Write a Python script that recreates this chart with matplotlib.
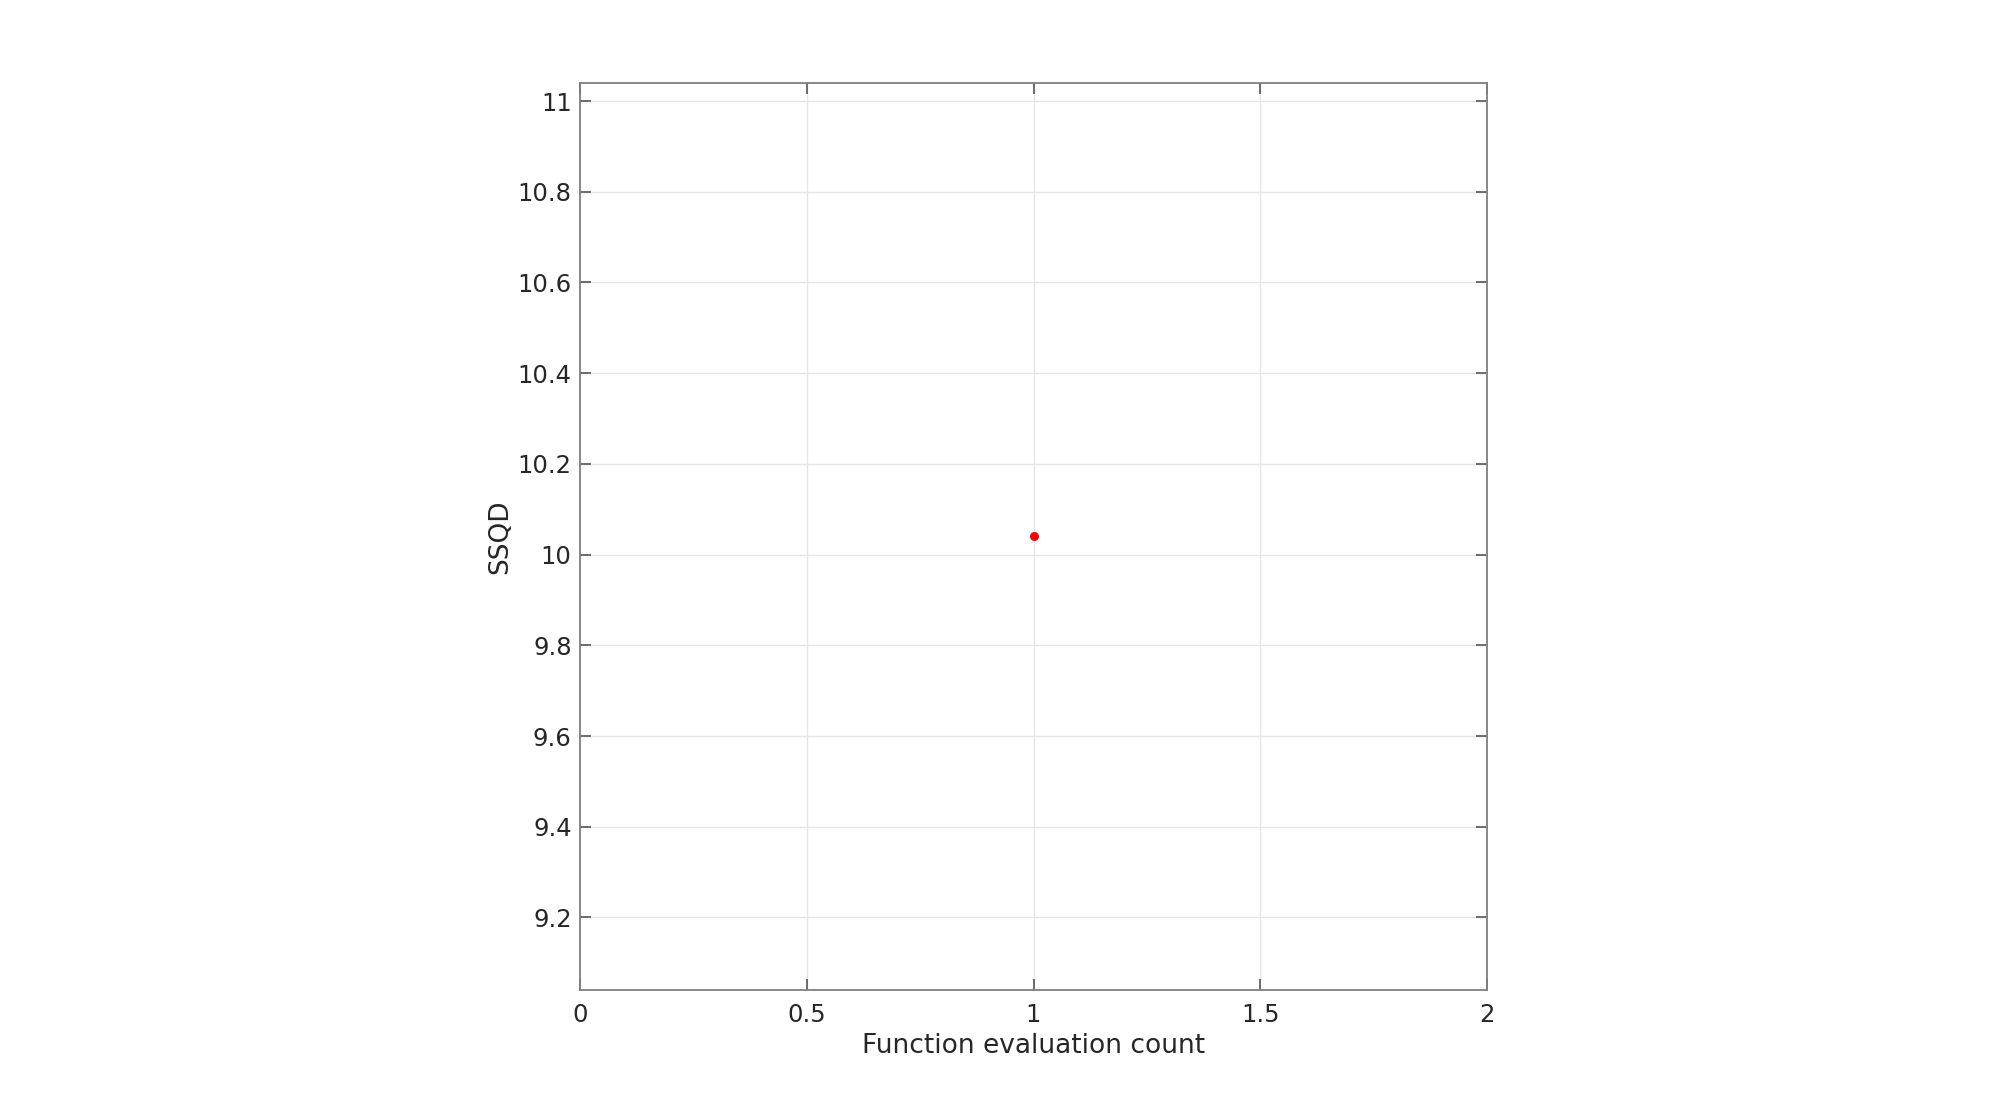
import matplotlib
matplotlib.use("Agg")
import matplotlib.pyplot as plt

eval_count = [1]
ssqd = [10.04]
xticks = [0, 0.5, 1, 1.5, 2]
yticks = [9.2, 9.4, 9.6, 9.8, 10, 10.2, 10.4, 10.6, 10.8, 11]

fig = plt.figure(figsize=(20, 11.13), dpi=100)
ax = fig.add_axes([0.29, 0.1105, 0.4535, 0.815])
ax.plot(eval_count, ssqd, 'o', color='red', markersize=6.5, markeredgewidth=0)
ax.set_xlim(0, 2)
ax.set_ylim(ssqd[0] - 1, ssqd[0] + 1)
ax.set_xticks(xticks)
ax.set_xticklabels(['0', '0.5', '1', '1.5', '2'])
ax.set_yticks(yticks)
ax.set_yticklabels(['9.2', '9.4', '9.6', '9.8', '10', '10.2', '10.4', '10.6', '10.8', '11'])
ax.grid(True, color='#e6e6e6', linewidth=1)
ax.set_axisbelow(True)
for s in ax.spines.values():
    s.set_color('#7f7f7f')
    s.set_linewidth(1.3)
ax.tick_params(direction='in', length=8, width=1.2, color='#555555',
               top=True, right=True, labelsize=17.5, labelcolor='#262626')
ax.tick_params(axis='x', pad=9)
ax.tick_params(axis='y', pad=6)
ax.set_xlabel('Function evaluation count', fontsize=19, color='#262626', labelpad=5)
ax.set_ylabel('SSQD', fontsize=19, color='#262626', labelpad=3)
fig.savefig('out.png', dpi=100, facecolor='white')
